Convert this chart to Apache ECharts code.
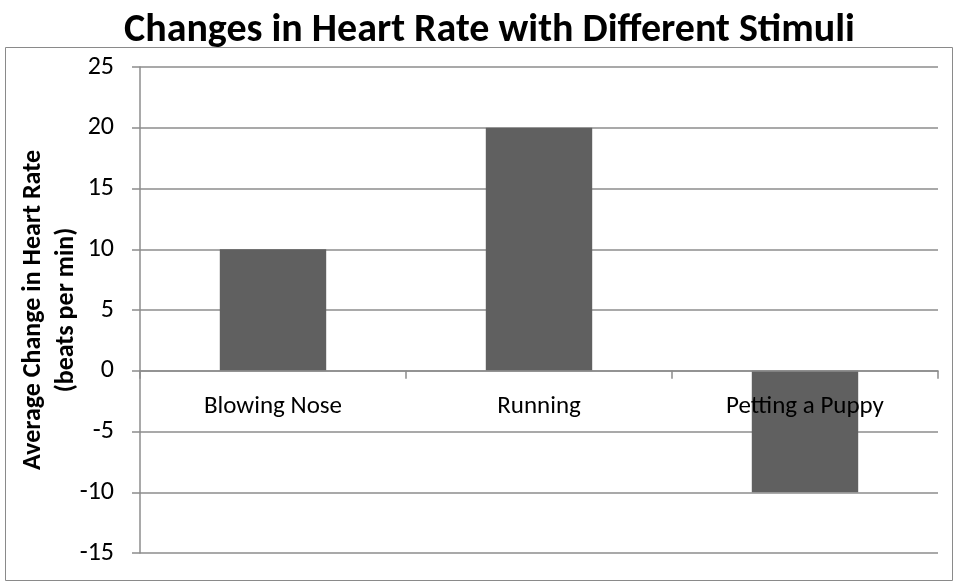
<!DOCTYPE html>
<html>
<head>
<meta charset="utf-8">
<script src="https://cdn.jsdelivr.net/npm/echarts@6/dist/echarts.min.js"></script>
<style>
  html, body { margin: 0; padding: 0; background: #fff; }
  #chart { width: 958px; height: 587px; }
</style>
</head>
<body>
<div id="chart"></div>
<script>
// 数据
var categories = ["Blowing Nose", "Running", "Petting a Puppy"];
var values = [10, 20, -10];
var yMin = -15, yMax = 25, yStep = 5;

var font = "Carlito, 'Open Sans', sans-serif";
var chart = echarts.init(document.getElementById("chart"));

// 网格位置
var gridTop = 67, gridBottom = 34;
var plotH = 587 - gridTop - gridBottom;
// x轴放在0处
var zeroOffset = -plotH * (0 - yMin) / (yMax - yMin);

var option = {
  animation: false,
  title: {
    text: "Changes in Heart Rate with Different Stimuli",
    left: 119,
    top: 6,
    textStyle: { fontFamily: font, fontSize: 40, fontWeight: "bold", color: "#000" },
  },
  // 外框
  graphic: [
    {
      type: "rect",
      shape: { x: 5.5, y: 47.5, width: 947, height: 533 },
      style: { fill: "none", stroke: "#8a8a8a", lineWidth: 1 },
      silent: true,
    },
  ],
  grid: { left: 140, right: 20, top: gridTop, bottom: gridBottom, containLabel: false, outerBoundsMode: "none" },
  xAxis: {
    type: "category",
    data: categories,
    z: 5,
    offset: zeroOffset,
    axisLine: { onZero: false, lineStyle: { color: "#8c8c8c", width: 1.5 } },
    axisTick: { show: true, length: 8, lineStyle: { color: "#8c8c8c", width: 1.5 } },
    axisLabel: { fontFamily: font, fontSize: 25, color: "#000", margin: 23 },
    splitLine: { show: false },
  },
  yAxis: {
    type: "value",
    min: yMin,
    max: yMax,
    interval: yStep,
    name: "Average Change in Heart Rate\n(beats per min)",
    nameLocation: "middle",
    nameGap: 57,
    nameMoveOverlap: false,
    nameTextStyle: { fontFamily: font, fontSize: 26, fontWeight: "bold", color: "#000", lineHeight: 33 },
    axisLine: { show: true, lineStyle: { color: "#8c8c8c", width: 1.5 } },
    axisTick: { show: true, length: 8, lineStyle: { color: "#8c8c8c", width: 1.5 } },
    axisLabel: { fontFamily: font, fontSize: 26, color: "#000", margin: 26 },
    splitLine: { show: true, lineStyle: { color: "#8c8c8c", width: 1.5 } },
  },
  series: [
    {
      type: "bar",
      data: values,
      barWidth: "40%",
      itemStyle: { color: "#606060" },
    },
  ],
};
chart.setOption(option);
</script>
</body>
</html>
